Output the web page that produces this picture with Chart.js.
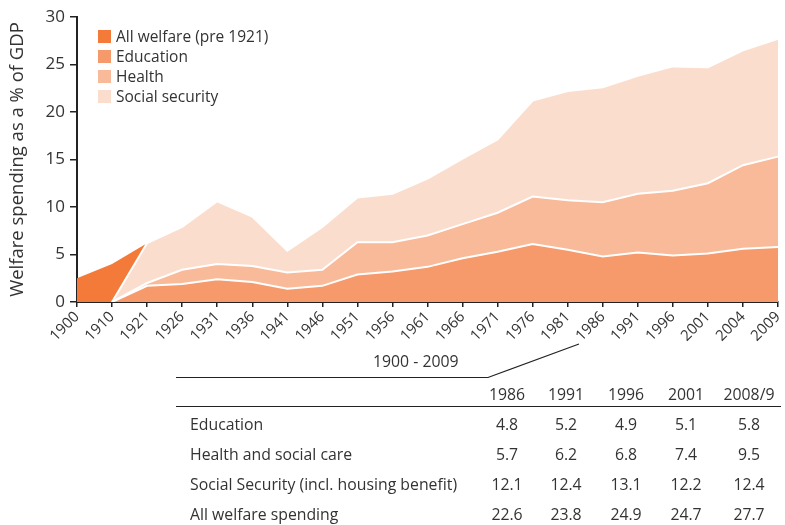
<!DOCTYPE html>
<html>
<head>
<meta charset="utf-8">
<script src="https://cdn.jsdelivr.net/npm/chart.js@4.4.1/dist/chart.umd.min.js"></script>
<style>
  html, body { margin: 0; padding: 0; background: #fff; }
  #wrap { position: relative; width: 785px; height: 525px; font-family: 'Open Sans', sans-serif; font-weight: 400; color: #333; }
  #chartBox { position: absolute; left: 0; top: 0; width: 785px; height: 350px; }
  #legend { position: absolute; left: 98px; top: 26px; font-size: 15.5px; }
  #legend .row { height: 20px; line-height: 20px; display: flex; align-items: center; }
  #legend .sw { width: 13px; height: 13px; margin-right: 5px; }
  #overlay { position: absolute; left: 0; top: 0; }
  .cell { position: absolute; font-size: 15.8px; line-height: 20px; white-space: nowrap; }
</style>
</head>
<body>
<div id="wrap">
  <div id="chartBox"><canvas id="welfareChart" width="785" height="350"></canvas></div>
  <div id="legend"></div>
  <svg id="overlay" width="785" height="525"></svg>
  <div id="table"></div>
</div>
<script>
// Chart data
const years = ['1900','1910','1921','1926','1931','1936','1941','1946','1951','1956','1961',
               '1966','1971','1976','1981','1986','1991','1996','2001','2004','2009'];
const allWelfarePre1921 = [2.5, 4.0, 6.2, null, null, null, null, null, null, null, null,
                           null, null, null, null, null, null, null, null, null, null];
const education = [null, 0, 1.7, 1.9, 2.4, 2.1, 1.4, 1.7, 2.9, 3.2, 3.7,
                   4.6, 5.3, 6.1, 5.5, 4.8, 5.2, 4.9, 5.1, 5.6, 5.8];
const health = [null, 0, 0.3, 1.5, 1.6, 1.7, 1.7, 1.7, 3.4, 3.1, 3.3,
                3.6, 4.1, 5.0, 5.2, 5.7, 6.2, 6.8, 7.4, 8.8, 9.5];
const socialSecurity = [null, 0, 4.2, 4.5, 6.6, 5.2, 2.3, 4.5, 4.7, 5.1, 6.0,
                        6.9, 7.7, 10.1, 11.5, 12.1, 12.4, 13.1, 12.2, 12.1, 12.4];
const yTicks = [0, 5, 10, 15, 20, 25, 30];

// Table data
const tableYears = ['1986', '1991', '1996', '2001', '2008/9'];
const tableLabels = ['Education', 'Health and social care', 'Social Security (incl. housing benefit)', 'All welfare spending'];
const tableEducation = [4.8, 5.2, 4.9, 5.1, 5.8];
const tableHealth = [5.7, 6.2, 6.8, 7.4, 9.5];
const tableSocial = [12.1, 12.4, 13.1, 12.2, 12.4];
const tableAll = [22.6, 23.8, 24.9, 24.7, 27.7];

const colors = {
    pre: 'rgb(243,122,57)',
    edu: 'rgb(246,153,107)',
    health: 'rgb(249,186,153)',
    social: 'rgb(251,221,206)'
};

const FONT = "'Open Sans', sans-serif";
const ink = '#333';

// Chart.js setup
const ctx = document.getElementById('welfareChart').getContext('2d');
const chart = new Chart(ctx, {
    type: 'line',
    data: {
        labels: years,
        datasets: [
            { label: 'Education', data: education, stack: 'main', backgroundColor: colors.edu,
              borderColor: '#fff', borderWidth: 2, fill: 'origin' },
            { label: 'Health', data: health, stack: 'main', backgroundColor: colors.health,
              borderColor: '#fff', borderWidth: 2, fill: 'origin' },
            { label: 'Social security', data: socialSecurity, stack: 'main', backgroundColor: colors.social,
              borderColor: '#fff', borderWidth: 2, fill: 'origin' },
            { label: 'All welfare (pre 1921)', data: allWelfarePre1921, stack: 'pre', backgroundColor: colors.pre,
              borderColor: colors.pre, borderWidth: 0, fill: 'origin' }
        ]
    },
    options: {
        responsive: false,
        animation: false,
        elements: { point: { radius: 0 }, line: { tension: 0 } },
        layout: { padding: { top: 17, right: 7, left: 0, bottom: 0 } },
        plugins: { legend: { display: false }, tooltip: { enabled: false } },
        scales: {
            x: {
                grid: { drawOnChartArea: false, drawTicks: true, tickLength: 5, color: '#222', lineWidth: 1.5 },
                border: { color: '#222', width: 2 },
                ticks: { autoSkip: false, maxRotation: 45, minRotation: 45, padding: 1, color: ink,
                         font: { family: FONT, size: 15 } },
                afterFit: s => { s.height = 48; s.paddingRight = 0; s.paddingLeft = 0; }
            },
            y: {
                stacked: true,
                min: 0, max: 30,
                afterBuildTicks: s => { s.ticks = yTicks.map(v => ({ value: v })); },
                grid: { drawOnChartArea: false, drawTicks: true, tickLength: 7, color: '#222', lineWidth: 1.5 },
                border: { color: '#222', width: 2 },
                ticks: { padding: 5, color: ink, font: { family: FONT, size: 17 } },
                title: { display: true, text: 'Welfare spending as a % of GDP', color: ink,
                         padding: { top: 7, bottom: 0 }, font: { family: FONT, size: 18.5 } },
                afterFit: s => { s.width = 77; }
            }
        }
    }
});

// Legend (top-left, inside plot area)
const legendItems = [
    ['All welfare (pre 1921)', colors.pre],
    ['Education', colors.edu],
    ['Health', colors.health],
    ['Social security', colors.social]
];
const legend = document.getElementById('legend');
legendItems.forEach(([name, col]) => {
    const row = document.createElement('div');
    row.className = 'row';
    row.innerHTML = `<span class="sw" style="background:${col}"></span><span>${name}</span>`;
    legend.appendChild(row);
});

// Table below the chart
const table = document.getElementById('table');
const colCenters = [507, 566, 626, 686, 749];
const rowY = [394, 424, 454, 484, 514];
function addCell(text, x, y, align) {
    const d = document.createElement('div');
    d.className = 'cell';
    d.textContent = text;
    d.style.top = (y - 10) + 'px';
    if (align === 'center') {
        d.style.left = (x - 40) + 'px';
        d.style.width = '80px';
        d.style.textAlign = 'center';
    } else {
        d.style.left = x + 'px';
    }
    table.appendChild(d);
}
tableYears.forEach((yr, i) => addCell(yr, colCenters[i], rowY[0], 'center'));
[tableEducation, tableHealth, tableSocial, tableAll].forEach((vals, r) => {
    addCell(tableLabels[r], 190, rowY[r + 1], 'left');
    vals.forEach((v, i) => addCell(v.toFixed(1), colCenters[i], rowY[r + 1], 'center'));
});
addCell('1900 - 2009', 413, 361, 'center');

// Rules and the pointer line to the 1986 tick
const svg = document.getElementById('overlay');
svg.innerHTML = `
  <polyline points="176,377.5 488,377.5 579,344" fill="none" stroke="#222" stroke-width="1.2"/>
  <line x1="176" y1="406.5" x2="781" y2="406.5" stroke="#222" stroke-width="1.2"/>
`;
</script>
</body>
</html>
